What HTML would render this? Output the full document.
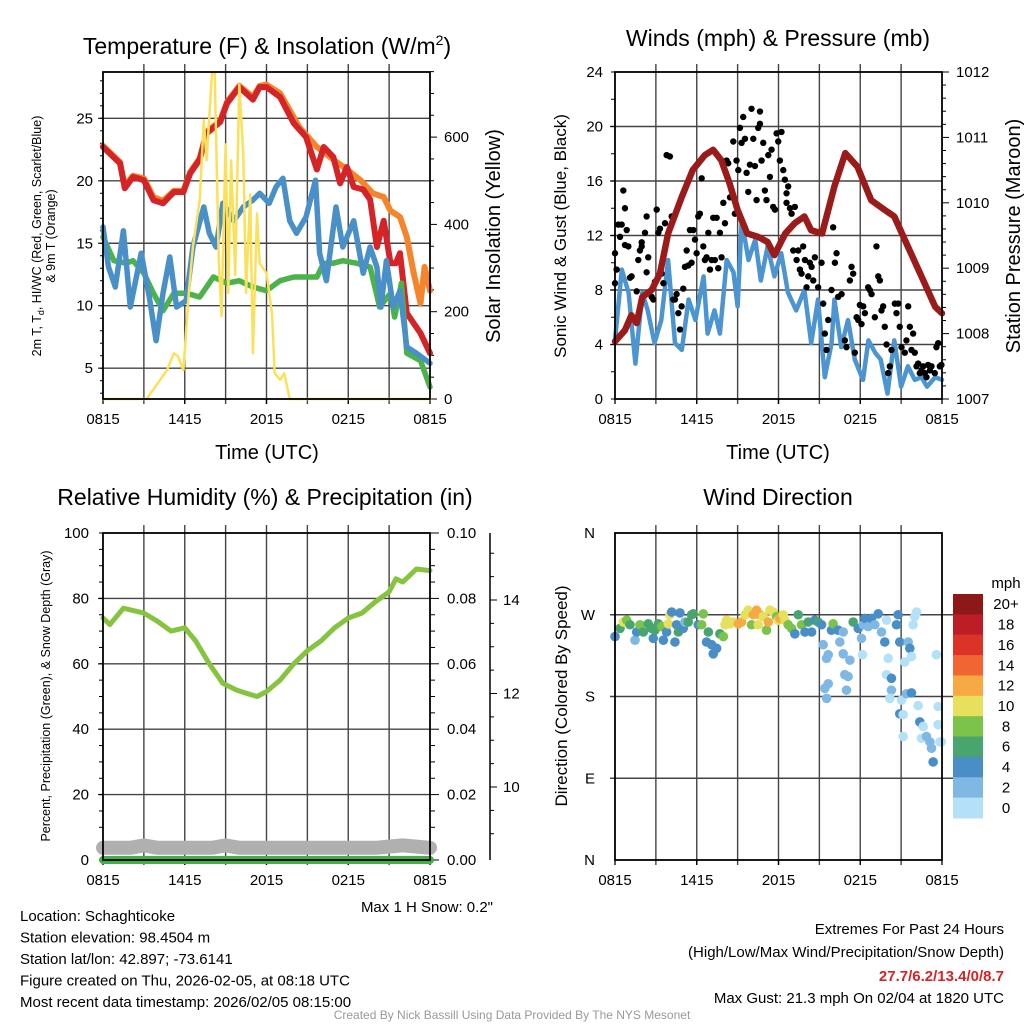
<!DOCTYPE html>
<html><head><meta charset="utf-8"><style>
body{margin:0;background:#fff;}
svg{display:block;font-family:"Liberation Sans",Arial,sans-serif;}
</style></head><body>
<svg id="c" width="1024" height="1024" viewBox="0 0 1024 1024" xmlns="http://www.w3.org/2000/svg"></svg>
<script>
// ---------- DATA ----------
const timeTicks = ["0815","1415","2015","0215","0815"];
// Panel 1: temperature (F)
const redT = [0,1.25,1.6,2.2,3.0,3.7,4.4,5.2,5.9,6.4,7.1,7.6,8.6,9.1,10,11,11.5,12,13,14,14.9,15.7,16.2,16.9,17.4,17.9,18.4,19.1,19.6,20.1,20.6,21.1,21.5,21.8,22.3,23.3,24];
const redV = [22.7,21.4,19.4,20.3,20.05,18.45,18.2,19.1,19.1,20.6,21.7,23.8,24.7,26.2,27.5,26.5,27.5,27.5,26.7,24.6,23.5,20.9,22.7,21.9,19.8,21.1,19.5,19.3,18.5,14.7,16.8,13.4,13.4,14.2,9.4,7.8,6.2];
const orangeT = [0,1.25,1.6,2.2,3.0,3.7,4.4,5.2,5.9,6.4,7.1,7.6,8.6,9.1,10,11,11.5,12,13,14.4,15.7,16.9,17.9,18.9,19.8,20.6,21.1,21.8,22.3,22.8,23.3,23.6,24];
const orangeV = [22.8,21.5,19.6,20.4,20.2,18.7,18.4,19.2,19.2,20.7,21.8,23.9,24.8,26.3,27.6,26.7,27.6,27.7,27.0,24.3,22.7,21.7,20.9,20.05,19.0,18.7,17.6,17.1,15.5,12.6,10.2,13.1,11.2];
const blueT = [0,0.4,0.9,1.5,2.0,2.8,3.4,3.9,4.4,4.9,5.4,6.1,6.6,7.4,7.8,8.3,8.8,9.6,10.3,11,11.5,12.2,12.7,13.2,13.7,14.2,14.9,15.6,15.9,16.4,17.1,17.6,18.4,19.1,19.6,20.1,20.4,20.8,21.3,21.8,22.3,23,24];
const blueV = [16.3,13.1,11.5,16.0,9.9,14.2,10.7,7.2,11.0,13.9,9.9,10.4,14.7,17.9,15.8,14.7,18.2,16.8,17.9,18.45,19.0,18.2,19.5,20.2,16.8,15.8,17.1,20.05,14.2,12.0,17.9,14.7,16.8,12.6,14.7,13.1,9.9,13.6,9.9,11.2,6.7,6.2,5.4];
const greenT = [0,0.8,1.7,2.2,3.0,3.7,4.4,5.2,6.1,7.1,8.1,9.1,10,11,12,13,14,14.9,15.7,16.2,16.9,17.6,18.6,19.6,20.3,21.1,21.4,21.9,22.3,23.3,24];
const greenV = [15.5,13.6,13.4,13.6,12.6,11.0,9.6,11.0,11.0,10.7,12.3,11.8,12.0,11.5,11.2,12.0,12.3,12.3,12.3,13.4,13.4,13.6,13.4,13.1,9.9,11.0,9.1,11.8,6.2,5.6,3.5];
const solarT = [0,3.2,4.2,4.7,5.2,5.5,5.9,6.3,6.6,7.1,7.4,7.6,8.0,8.2,8.5,8.7,9.0,9.2,9.4,9.7,10.0,10.3,10.5,10.8,11.0,11.3,11.5,12.0,12.4,12.6,13.0,13.3,13.7,24];
const solarV = [0,0,44,66,105,98,66,243,349,456,639,547,747,747,318,190,583,243,547,284,720,560,243,469,105,425,311,288,196,59,44,59,0,0];
// Panel 2: winds & pressure
const presT = [0,0.73,1.2,1.6,2.0,2.7,3.3,3.9,4.9,5.7,6.6,7.2,7.8,8.4,9.0,9.7,10.5,11.2,11.7,12.5,13.2,13.9,14.4,15.2,16.1,16.9,17.8,18.8,19.8,20.5,21.5,22.5,23.5,24];
const presV = [1007.88,1008.05,1008.28,1008.16,1008.56,1008.67,1008.92,1009.53,1010.09,1010.5,1010.73,1010.81,1010.65,1010.3,1009.89,1009.53,1009.48,1009.4,1009.2,1009.53,1009.69,1009.79,1009.58,1009.53,1010.25,1010.76,1010.55,1010.04,1009.89,1009.79,1009.33,1008.87,1008.41,1008.31];
const windT = [0,0.5,1.0,1.5,2.0,2.4,2.9,3.4,3.9,4.4,4.9,5.4,5.9,6.5,6.8,7.3,7.7,8.2,8.7,9.0,9.3,9.8,10.3,10.7,11.2,11.7,12.2,12.7,13.3,13.9,14.4,14.9,15.4,15.9,16.1,16.6,17.1,17.6,18.2,18.6,19.1,19.5,20.0,20.5,21.0,21.5,22.0,22.5,22.9,23.5,24];
const windV = [4.3,9.5,7.8,2.6,7.8,6.5,4.1,5.8,10.2,4.1,3.6,7.3,5.8,9.0,4.8,6.5,4.8,10.2,9.3,6.8,13.1,10.2,11.7,8.7,11.2,9.0,10.7,7.8,6.5,8.0,4.1,7.3,1.6,4.1,7.3,3.8,5.8,2.9,1.4,4.3,3.4,2.9,0.4,4.3,0.9,2.4,1.4,1.6,0.9,1.6,1.4];
const gustT = [0,0.12,0,0.24,0.49,0.37,0.61,0.73,0.86,0.73,0.98,1.22,1.1,1.59,1.71,1.83,1.96,1.96,2.2,2.32,2.32,2.44,2.69,2.81,2.93,3.06,3.18,3.3,3.42,3.55,3.67,3.79,4.03,4.16,4.28,4.4,4.52,4.65,4.77,4.89,5.01,5.13,5.26,5.38,5.5,5.62,5.75,5.87,5.99,6.11,6.23,6.36,6.48,6.6,6.72,6.85,6.97,7.09,7.21,7.33,7.46,7.58,7.7,7.82,7.95,8.07,8.19,8.31,8.44,8.56,8.68,8.8,8.92,9.05,9.17,9.29,9.41,9.54,9.66,9.78,9.9,10.02,10.15,10.27,10.39,10.51,10.64,10.64,10.76,10.88,11,11.12,11.25,11.37,11.49,11.61,11.74,11.86,11.98,12.1,12.22,12.35,12.47,12.59,12.59,12.71,12.84,12.96,13.08,13.2,13.33,13.45,13.57,13.69,13.81,13.94,14.06,14.18,14.3,14.43,14.55,14.67,14.91,15.16,15.28,15.4,15.53,15.65,15.89,16.01,16.14,16.26,16.38,16.63,16.87,16.99,17.24,17.36,17.48,17.6,17.73,17.85,17.97,18.09,18.22,18.34,18.58,18.7,18.83,19.07,19.19,19.32,19.44,19.56,19.68,19.8,19.93,20.05,20.17,20.29,20.54,20.66,20.78,20.9,21.03,21.27,21.39,21.52,21.64,21.76,21.88,22,22.13,22.25,22.37,22.49,22.62,22.74,22.86,22.98,23.11,23.23,23.47,23.59,23.72,23.84,23.96];
const gustV = [10.7,9.5,8.5,12.8,12.8,11.9,15.3,14.0,12.4,11.3,11.2,9.0,8.9,7.9,10.2,10.9,11.5,11.2,12.2,9.3,13.4,10.4,7.5,7.3,8.6,13.9,12.2,12.5,9.2,8.5,12.9,17.9,17.8,13.4,7.3,7.3,7.7,6.3,5.1,6.8,8.1,9.7,10.9,9.8,12.4,10.0,12.4,11.7,10.7,13.4,13.6,16.2,11.2,10.2,10.4,12.2,9.5,10.2,13.3,10.2,13.3,9.6,12.2,10.4,14.4,12.9,17.5,17.3,14.8,15.3,18.9,13.6,17.5,16.8,19.9,18.8,20.7,19.1,16.6,15.2,17.2,21.3,19.1,17.1,14.6,19.9,20.2,21.1,17.5,18.8,15.3,14.6,17.9,16.3,18.3,14.1,13.9,19.5,18.9,17.5,19.6,16.8,16.1,15.1,14.4,15.6,14.0,13.6,10.9,14.1,10.2,10.9,9.5,9.2,11.2,10.2,8.2,9.0,10.0,9.7,8.7,10.4,8.2,10.0,7.0,4.8,3.6,5.8,8.0,12.6,10.0,10.7,7.5,7.7,4.3,3.8,8.7,9.7,9.2,3.4,6.0,5.8,6.9,5.5,6.8,6.3,8.2,8.0,7.7,6.0,11.2,9.0,8.7,6.5,6.8,5.3,4.0,1.9,2.4,3.6,7.0,6.3,7.0,5.3,3.8,3.4,4.3,6.8,5.3,3.6,4.8,3.4,2.4,2.6,1.9,2.1,2.4,1.9,1.6,2.5,2.1,2.4,1.9,3.8,4.1,2.4,2.5];
// Panel 3: RH, precip, snow depth
const rhT = [0,0.5,1.5,3,4,5,6,6.8,7.8,8.8,9.8,10.5,11.3,12,13,14,15,16,17,18,19,20,21,21.5,22,23,24];
const rhV = [74,72,77,75.5,73,70,71,67,60,54,52,51,50,51.5,55,60,64,67,71,74,75.5,79,82,86,85,89,88.5];
const precipT = [0,24];
const precipV = [0,0];
const snowT = [0,2,3,4,6,8,9,10,12,14,16,18,20,22,24];
const snowV = [8.7,8.7,8.75,8.7,8.7,8.7,8.75,8.7,8.7,8.7,8.7,8.7,8.7,8.75,8.7];
// Panel 4: wind direction (deg) colored by speed (mph)
const dirT = [0,0.37,0.61,0.86,1.1,1.47,1.59,1.83,2.08,2.44,2.69,2.81,2.93,3.18,3.42,3.55,3.79,3.91,4.03,4.16,4.4,4.52,4.65,4.77,5.01,5.13,5.38,5.62,5.75,6.11,6.36,6.48,6.72,6.85,7.09,7.21,7.46,7.7,7.95,8.07,8.19,8.44,8.68,9.05,9.29,9.54,9.78,10.02,10.15,10.39,10.51,10.64,10.88,11.12,11.25,11.37,11.61,11.86,11.98,12.1,12.35,12.47,12.71,12.96,13.2,13.45,13.69,13.94,14.18,14.43,14.67,14.91,15.16,15.28,15.53,15.65,15.4,15.53,15.65,15.89,16.01,16.38,16.5,16.75,16.75,16.87,17.11,16.99,17.24,17.48,17.85,18.09,18.17,18.22,18.34,18.58,18.83,19.07,19.32,19.56,19.8,19.93,20.05,19.93,20.29,20.29,20.17,20.66,20.78,20.9,21.03,20.9,21.15,21.15,21.27,21.39,21.52,21.64,21.76,21.76,21.88,22.0,22.13,22.25,22.37,22.49,22.62,22.86,23.11,23.23,23.35,23.59,23.72,23.72,23.84,23.96];
const dirV = [246,255,262,264,259,242,251,259,251,260,255,244,253,260,257,242,251,260,270,273,240,259,251,272,255,262,262,270,271,259,259,271,240,251,237,227,233,249,246,259,264,260,262,260,262,270,275,259,270,275,259,270,268,253,262,275,273,268,264,266,270,264,259,255,249,270,259,251,262,251,264,262,259,237,222,226,189,178,194,253,260,253,240,251,227,204,202,187,220,262,255,244,226,259,266,257,266,259,271,251,240,264,222,204,200,187,178,259,270,240,176,161,160,136,218,183,240,233,184,224,259,268,273,170,152,134,147,136,130,123,108,226,169,149,130,130];
const dirS = [5,7,11,9,7,3,5,9,7,7,7,5,7,7,9,5,5,11,11,5,5,5,7,5,5,3,7,7,7,5,9,9,5,7,5,5,5,7,9,11,11,11,11,13,13,11,11,9,13,13,11,13,11,9,13,11,11,9,11,13,11,11,9,9,5,7,9,5,7,5,5,7,5,3,3,3,3,3,3,5,9,5,3,3,3,3,3,3,3,7,5,3,1,3,5,3,5,3,5,3,5,1,1,1,5,3,1,5,5,5,1,5,1,1,1,3,3,5,5,1,1,1,1,1,5,1,1,3,3,3,5,1,1,1,1,1];
const speedBins = ["0","2","4","6","8","10","12","14","16","18","20+"];
const speedColors = ["#b5e1f8","#7fb9e3","#4a8ec8","#49a56e","#7bc34b","#e7e05c","#f7aa43","#f06530","#dc3328","#bd1e25","#8c1818"];

// ---------- DRAWING ----------
const NS="http://www.w3.org/2000/svg";
const svg=document.getElementById('c');
function el(tag,attrs,parent){const e=document.createElementNS(NS,tag);for(const k in attrs)e.setAttribute(k,attrs[k]);(parent||svg).appendChild(e);return e;}
function txt(x,y,s,size,anchor,parent,extra){const t=el('text',Object.assign({x:x,y:y,'font-size':size,'text-anchor':anchor||'middle',fill:'#000'},extra||{}),parent);t.textContent=s;return t;}
function lin(a,b,c,d){return v=>c+(v-a)*(d-c)/(b-a);}

function panel(name,L,R,T,B){
  const g=el('g',{});
  
  
  const x=lin(0,24,L,R);
  for(let h=3;h<24;h+=3){const gl=el('line',{x1:x(h),x2:x(h),y1:T-8,y2:B+5,stroke:'#444','stroke-width':1.4},g);}
  timeTicks.forEach((s,i)=>{const t=txt(x(i*6),B+25,s,15,'middle',g);
    el('line',{x1:x(i*6),x2:x(i*6),y1:B,y2:B+5,stroke:'#000','stroke-width':1.3},g);});
  return {g,x};
}
function frame(g,L,R,T,B){const f=el('rect',{x:L,y:T,width:R-L,height:B-T,fill:'none',stroke:'#000','stroke-width':1.8},g);}
function path(g,xs,ys,fx,fy,color,w,name){
  let d='';xs.forEach((t,i)=>{d+=(i?'L':'M')+fx(t).toFixed(1)+','+fy(ys[i]).toFixed(1);});
  const p=el('path',{d:d,fill:'none',stroke:color,'stroke-width':w,'stroke-linejoin':'round','stroke-linecap':'round'},g);
  return p;}

// ===== Panel 1 =====
{
  const L=103,R=430,T=72,B=399;
  const P=panel('temperature-panel',L,R,T,B),g=P.g,x=P.x;
  const y=lin(25,5,118.3,368.2);
  const yS=lin(0,200,399,311.7);
  [5,10,15,20,25].forEach(v=>{el('line',{x1:L-5,x2:R,y1:y(v),y2:y(v),stroke:'#444','stroke-width':1.4},g);
    const t=txt(L-10,y(v)+5,String(v),15,'end',g);});
  for(let v=3;v<=28;v++)el('line',{x1:L-3,x2:L,y1:y(v),y2:y(v),stroke:'#000','stroke-width':1},g);
  for(let v=0;v<=750;v+=50){el('line',{x1:R,x2:R+(v%200==0?7:4),y1:yS(v),y2:yS(v),stroke:'#000','stroke-width':1},g);}
  [0,200,400,600].forEach(v=>{const t=txt(R+14,yS(v)+5,String(v),15,'start',g);});
  path(g,orangeT,orangeV,x,y,'#f5842b',6,'series-9m-temperature');
  path(g,redT,redV,x,y,'#d42427',6,'series-2m-temperature');
  path(g,greenT,greenV,x,y,'#4cb24a',5.5,'series-dewpoint');
  path(g,blueT,blueV,x,y,'#4a90c8',5.5,'series-wind-chill');
  path(g,solarT,solarV,x,yS,'#fbe15a',2.5,'series-solar-insolation');
  frame(g,L,R,T,B);
  const t1=el('text',{x:267,y:54,'font-size':23,'text-anchor':'middle'},g);t1.innerHTML='Temperature (F) &amp; Insolation (W/m<tspan dy="-9" font-size="14">2</tspan><tspan dy="9">)</tspan>';
  
  const xl=txt(267,459,'Time (UTC)',20,'middle',g);
  const yl=el('text',{x:0,y:0,'font-size':12.5,'text-anchor':'middle',transform:'translate(41,236) rotate(-90)'},g);
  yl.innerHTML='2m T, T<tspan dy="3" font-size="9">d</tspan><tspan dy="-3">, HI/WC (Red, Green, Scarlet/Blue)</tspan>';
  
  const yl2=txt(0,0,'& 9m T (Orange)',12.5,'middle',g,{transform:'translate(55,236) rotate(-90)'});
  const yr=txt(0,0,'Solar Insolation (Yellow)',20,'middle',g,{transform:'translate(500,236) rotate(-90)'});
}
// ===== Panel 2 =====
{
  const L=615,R=942,T=72,B=399;
  const P=panel('winds-panel',L,R,T,B),g=P.g,x=P.x;
  const y=lin(0,24,B,T);
  const yP=lin(1007,1012,B,T);
  for(let v=4;v<24;v+=4)el('line',{x1:L-5,x2:R,y1:y(v),y2:y(v),stroke:'#444','stroke-width':1.4},g);
  for(let v=0;v<=24;v+=4){const t=txt(L-12,y(v)+5,String(v),15,'end',g);}
  for(let v=0;v<=24;v+=2)el('line',{x1:L-4,x2:L,y1:y(v),y2:y(v),stroke:'#000'},g);
  for(let v=1007;v<=1012.001;v+=0.2){const major=Math.abs(v-Math.round(v))<0.01;el('line',{x1:R,x2:R+(major?7:4),y1:yP(v),y2:yP(v),stroke:'#000'},g);}
  for(let v=1007;v<=1012;v++){const t=txt(R+14,yP(v)+5,String(v),15,'start',g);}
  path(g,windT,windV,x,y,'#4c95d0',4.5,'series-sonic-wind');
  gustT.forEach((t,i)=>{const c=el('circle',{cx:x(t),cy:y(gustV[i]),r:3.2,fill:'#000'},g);});
  path(g,presT,presV,x,yP,'#9b1b1b',6.5,'series-station-pressure');
  frame(g,L,R,T,B);
  const t1=txt(778,46,'Winds (mph) & Pressure (mb)',23,'middle',g);
  const xl=txt(778,459,'Time (UTC)',20,'middle',g);
  const yl=txt(0,0,'Sonic Wind & Gust (Blue, Black)',17,'middle',g,{transform:'translate(566,236) rotate(-90)'});
  const yr=txt(0,0,'Station Pressure (Maroon)',20,'middle',g,{transform:'translate(1020,236) rotate(-90)'});
}
// ===== Panel 3 =====
{
  const L=103,R=430,T=533,B=860;
  const P=panel('humidity-panel',L,R,T,B),g=P.g,x=P.x;
  const y=lin(0,100,B,T);
  const yPr=lin(0,0.1,B,T);
  const ySn=lin(10,12,787,693.5);
  for(let v=20;v<100;v+=20)el('line',{x1:L-5,x2:R,y1:y(v),y2:y(v),stroke:'#444','stroke-width':1.4},g);
  for(let v=0;v<=100;v+=20){const t=txt(L-14,y(v)+5,String(v),15,'end',g);}
  for(let v=0;v<=100;v+=5)el('line',{x1:L-4,x2:L,y1:y(v),y2:y(v),stroke:'#000'},g);
  for(let i=0;i<=20;i++){const v=i*0.005;el('line',{x1:R,x2:R+(i%4==0?9:5),y1:yPr(v),y2:yPr(v),stroke:'#000'},g);}
  for(let i=0;i<=5;i++){const v=i*0.02;const t=txt(R+17,yPr(v)+5,v.toFixed(2),15,'start',g);}
  const sa=el('line',{x1:490,x2:490,y1:T,y2:B,stroke:'#000','stroke-width':1.5},g);
  for(let v=9;v<=15.01;v+=0.5){const major=Math.abs(v%2)<0.01;el('line',{x1:490,x2:490+(major?7:4),y1:ySn(v),y2:ySn(v),stroke:'#000'},g);}
  [10,12,14].forEach(v=>{const t=txt(503,ySn(v)+5,String(v),15,'start',g);});
  path(g,snowT,snowV,x,ySn,'#b0b0b0',14,'series-snow-depth');
  path(g,precipT,precipV,x,yPr,'#42b046',8,'series-precipitation');
  path(g,rhT,rhV,x,y,'#86c440',5,'series-relative-humidity');
  frame(g,L,R,T,B);
  const t1=txt(265,505,'Relative Humidity (%) & Precipitation (in)',23,'middle',g);
  const yl=txt(0,0,'Percent, Precipitation (Green), & Snow Depth (Gray)',12.5,'middle',g,{transform:'translate(50,696) rotate(-90)'});
  const sn=txt(493,912,'Max 1 H Snow: 0.2"',15,'end',g);
}
// ===== Panel 4 =====
{
  const L=615,R=942,T=533,B=860;
  const P=panel('wind-direction-panel',L,R,T,B),g=P.g,x=P.x;
  const y=lin(0,360,B,T);
  const dl=['N','E','S','W','N'];
  for(let i=0;i<=4;i++){if(i>0&&i<4)el('line',{x1:L-5,x2:R+12,y1:y(i*90),y2:y(i*90),stroke:'#444','stroke-width':1.4},g);
    const t=txt(L-20,y(i*90)+5,dl[i],15,'end',g);}
  dirT.forEach((t,i)=>{const b=Math.min(10,Math.floor(dirS[i]/2));const c=el('circle',{cx:x(t),cy:y(dirV[i]),r:4.8,fill:speedColors[b]},g);});
  frame(g,L,R,T,B);
  const t1=txt(778,505,'Wind Direction',23,'middle',g);
  const yl=txt(0,0,'Direction (Colored By Speed)',17,'middle',g,{transform:'translate(567,696) rotate(-90)'});
  const lg=el('g',{},g);
  const lt=txt(1006,588,'mph',15,'middle',lg);
  const bh=224/11;
  for(let k=0;k<11;k++){const bi=10-k;const yy=594+k*bh;
    const r=el('rect',{x:953,y:yy,width:30,height:bh+0.5,fill:speedColors[bi]},lg);
    const t=txt(1006,yy+bh/2+5,speedBins[bi],15,'middle',lg);}
}
// ===== Footer text =====
{
  const info=['Location: Schaghticoke','Station elevation: 98.4504 m','Station lat/lon: 42.897; -73.6141','Figure created on Thu, 2026-02-05, at 08:18 UTC','Most recent data timestamp: 2026/02/05 08:15:00'];
  info.forEach((s,i)=>{const t=txt(20,921+i*21.5,s,15,'start');});
  const r1=txt(1004,934,'Extremes For Past 24 Hours',15,'end');
  const r2=txt(1004,957,'(High/Low/Max Wind/Precipitation/Snow Depth)',15,'end');
  const r3=txt(1004,981,'27.7/6.2/13.4/0/8.7',15,'end',null,{fill:'#d42427','font-weight':'bold'});
  const r4=txt(1004,1003,'Max Gust: 21.3 mph On 02/04 at 1820 UTC',15,'end');
  const c=txt(512,1019,'Created By Nick Bassill Using Data Provided By The NYS Mesonet',12,'middle',null,{fill:'#999'});
}
</script>
</body></html>
